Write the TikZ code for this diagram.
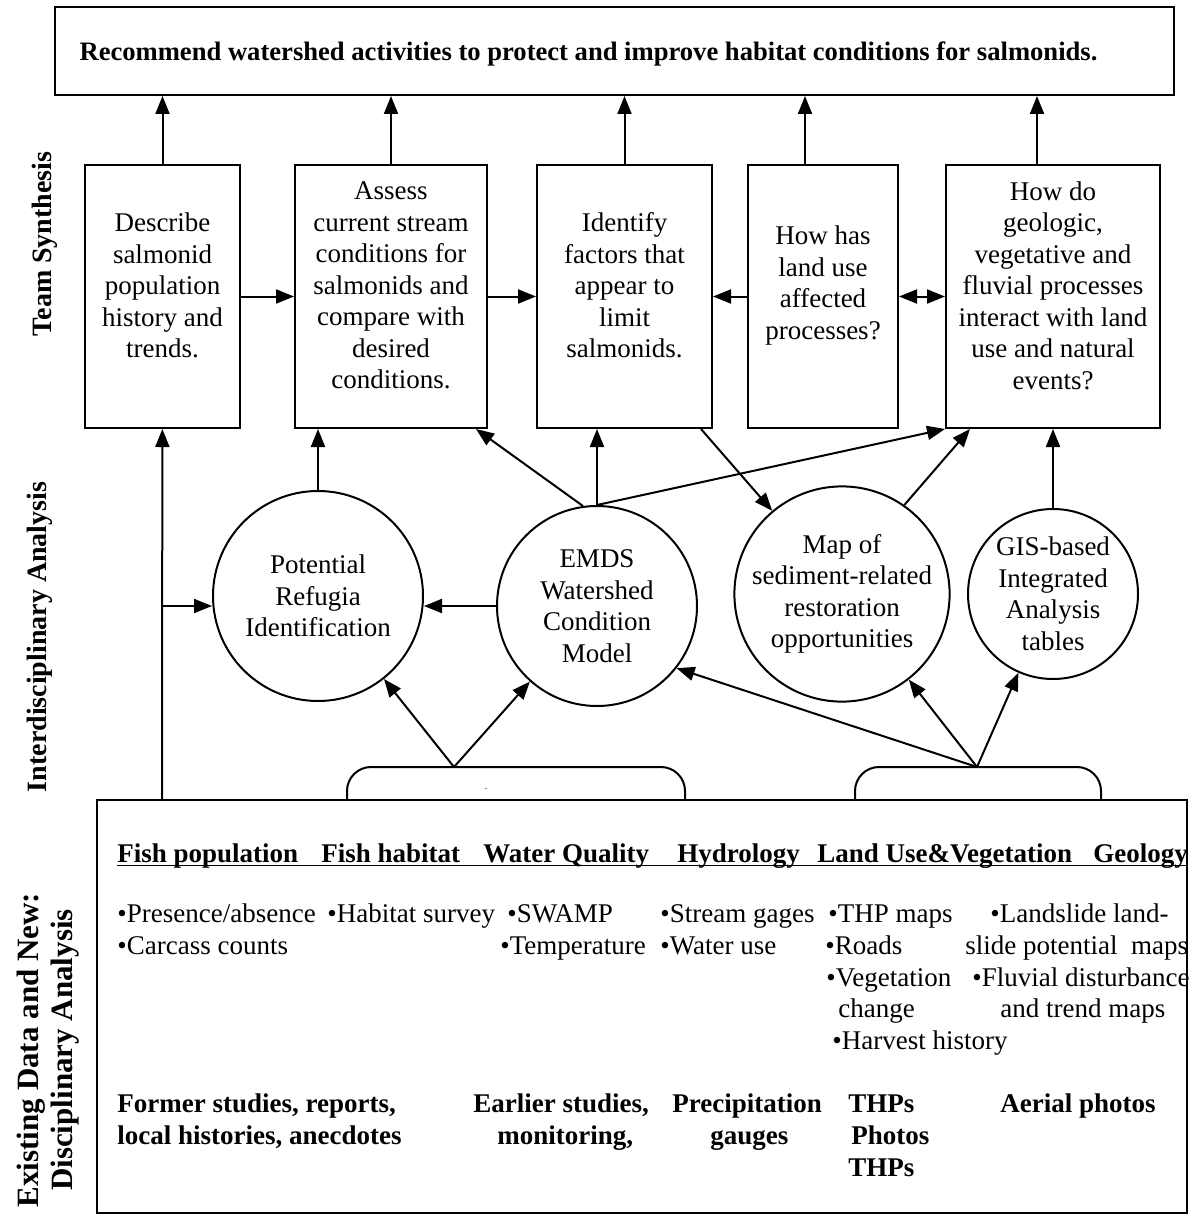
\documentclass[tikz,border=0pt]{standalone}
\usepackage{fontspec}
\setmainfont{Liberation Serif}
\usetikzlibrary{arrows.meta}

\begin{document}
\begin{tikzpicture}[x=0.5pt,y=-0.5pt,
	box/.style={draw=black,line width=1pt,inner sep=0pt},
	boxtxt/.style={align=center,inner sep=0pt,font=\fontsize{13.5}{15.75}\selectfont},
	blob/.style={shape=circle,draw=black,line width=1pt,align=center,inner sep=0pt,font=\fontsize{13.5}{15.75}\selectfont},
	arr/.style={line width=1pt,-{Triangle[length=9pt,width=7pt]}},
	item/.style={anchor=mid west,inner sep=0pt,font=\fontsize{13.5}{15.75}\selectfont},
	head/.style={anchor=mid west,inner sep=0pt,font=\bfseries\fontsize{13.5}{15.75}\selectfont},
	side/.style={rotate=90,align=center,inner sep=0pt,font=\bfseries\fontsize{14}{17}\selectfont}]

	\useasboundingbox (0,0) rectangle (1191,1220);

	\node[side] (teamlbl) at (45,244) {Team Synthesis};
	\node[side] (interlbl) at (40,637) {Interdisciplinary Analysis};
	\node[side,font=\bfseries\fontsize{15.5}{17}\selectfont] (datalbl) at (48,1050) {Existing Data and New:\\Disciplinary Analysis};

	\node[box,minimum width=559.5pt,minimum height=44pt,label={[font=\bfseries\fontsize{13.3}{15}\selectfont,inner sep=0pt,xshift=-13pt,yshift=-1.5pt]center:{Recommend watershed activities to protect and improve habitat conditions for salmonids.}}] (recommend) at (614.5,51) {};

	\node[box,minimum width=77.5pt,minimum height=131.5pt,label={[boxtxt,yshift=5.5pt]center:{Describe\\salmonid\\population\\history and\\trends.}}] (describe) at (162.5,296.5) {};
	\node[box,minimum width=96pt,minimum height=131.5pt,label={[boxtxt,yshift=5.5pt]center:{Assess\\current stream\\conditions for\\salmonids and\\compare with\\desired\\conditions.}}] (assess) at (391,296.5) {};
	\node[box,minimum width=87.5pt,minimum height=131.5pt,label={[boxtxt,yshift=5.5pt]center:{Identify\\factors that\\appear to\\limit\\salmonids.}}] (identify) at (624.5,296.5) {};
	\node[box,minimum width=75pt,minimum height=131.5pt,label={[boxtxt,yshift=5.5pt]center:{How has\\land use\\affected\\processes?}}] (landuse) at (823,296.5) {};
	\node[box,minimum width=107pt,minimum height=131.5pt,label={[boxtxt,yshift=5.5pt]center:{How do\\geologic,\\vegetative and\\fluvial processes\\interact with land\\use and natural\\events?}}] (processes) at (1053,296.5) {};

	\node[blob,minimum size=105pt] (refugia) at (318,596) {Potential\\Refugia\\Identification};
	\node[blob,minimum size=100pt] (emds) at (597,606) {EMDS\\Watershed\\Condition\\Model};
	\node[blob,minimum size=95pt] (sedmap) at (842,594) {Map of\\sediment-related\\restoration\\opportunities};
	\node[blob,minimum size=85pt] (gis) at (1053,594) {GIS-based\\Integrated\\Analysis\\tables};

	\node[box,minimum width=545pt,minimum height=206.5pt] (data) at (642,1006.5) {};

	% up to the recommendation
	\path (landuse.north) ++(-18,0) coordinate (luup);
	\path (processes.north) ++(-16,0) coordinate (prup);
	\draw[arr] (describe) -- (describe |- recommend.south);
	\draw[arr] (assess) -- (assess |- recommend.south);
	\draw[arr] (identify) -- (identify |- recommend.south);
	\draw[arr] (luup) -- (luup |- recommend.south);
	\draw[arr] (prup) -- (prup |- recommend.south);

	\draw[arr] (describe) -- (assess);
	\draw[arr] (assess) -- (identify);
	\draw[arr] (landuse) -- (identify);
	\draw[line width=1pt,{Triangle[length=9pt,width=7pt]}-{Triangle[length=9pt,width=7pt]}] (landuse) -- (processes);

	% circles to boxes
	\draw[arr] (refugia) -- (refugia |- assess.south);
	\draw[arr] (emds.98) -- ([xshift=-6pt]assess.south east);
	\draw[arr] (emds) -- (emds |- identify.south);
	\draw[arr] (emds.north) -- (processes.south west);
	\draw[arr] ([xshift=-6pt]identify.south east) -- (sedmap.130);
	\draw[arr] (sedmap.55) -- ([xshift=12.5pt]processes.south west);
	\draw[arr] (gis) -- (gis |- processes.south);
	\draw[arr] (emds.west) -- (emds.west -| refugia.east);

	% left trunk
	\coordinate (trunk) at (162,800);
	\coordinate (trunkmid) at (162,606);
	\draw[arr] (trunk) -- (describe);
	\draw[arr] (trunkmid) -- (trunkmid -| refugia.west);

	% brackets on the data box
	\coordinate (fishjoin) at (454,767);
	\coordinate (geojoin) at (977,767);
	\draw[line width=1pt,rounded corners=12pt] (347,800) -- (347,767) -- (685,767) -- (685,800);
	\draw[line width=1pt,rounded corners=12pt] (855,800) -- (855,767) -- (1101,767) -- (1101,800);
	\node[inner sep=0pt,font=\tiny] (dot) at (486,789) {.};
	\draw[arr] (fishjoin) -- (refugia);
	\draw[arr] (fishjoin) -- (emds);
	\draw[arr] (geojoin) -- (emds.-38);
	\draw[arr] (geojoin) -- (sedmap);
	\draw[arr] (geojoin) -- (gis);

	% disciplines
	\node[head] (fishpop) at (117,858) {Fish population};
	\node[head] (fishhab) at (321,858) {Fish habitat};
	\node[head] (water) at (483,858) {Water Quality};
	\node[head] (hydro) at (677,858) {Hydrology};
	\node[head] (landveg) at (817,858) {Land Use\&Vegetation};
	\node[head] (geology) at (1093,858) {Geology};
	\draw[line width=0.8pt] ([yshift=-1.5pt]fishpop.base west) -- ([yshift=-1.5pt]geology.base east);

	\node[item] (pres) at (117,918) {\textbullet Presence/absence};
	\node[item] (habsurv) at (327,918) {\textbullet Habitat survey};
	\node[item] (swamp) at (507,918) {\textbullet SWAMP};
	\node[item] (gages) at (660,918) {\textbullet Stream gages};
	\node[item] (thpmaps) at (828,918) {\textbullet THP maps};
	\node[item] (slide) at (990,918) {\textbullet Landslide land-};
	\node[item] (carcass) at (117,950) {\textbullet Carcass counts};
	\node[item] (temp) at (500,950) {\textbullet Temperature};
	\node[item] (wateruse) at (660,950) {\textbullet Water use};
	\node[item] (roads) at (825,950) {\textbullet Roads};
	\node[item] (slide2) at (965,950) {slide potential\ \ maps};
	\node[item] (veg) at (826,982) {\textbullet Vegetation};
	\node[item] (fluvial) at (972,982) {\textbullet Fluvial disturbance};
	\node[item] (veg2) at (838,1013) {change};
	\node[item] (fluvial2) at (1000,1013) {and trend maps};
	\node[item] (harvest) at (832,1045) {\textbullet Harvest history};

	\node[head] (former) at (117,1108) {Former studies, reports,};
	\node[head] (earlier) at (473,1108) {Earlier studies,};
	\node[head] (precip) at (672,1108) {Precipitation};
	\node[head] (thps) at (848,1108) {THPs};
	\node[head] (aerial) at (1000,1108) {Aerial photos};
	\node[head] (former2) at (117,1140) {local histories, anecdotes};
	\node[head] (earlier2) at (497,1140) {monitoring,};
	\node[head] (precip2) at (710,1140) {gauges};
	\node[head] (photos) at (851,1140) {Photos};
	\node[head] (thps2) at (848,1172) {THPs};
\end{tikzpicture}
\end{document}
